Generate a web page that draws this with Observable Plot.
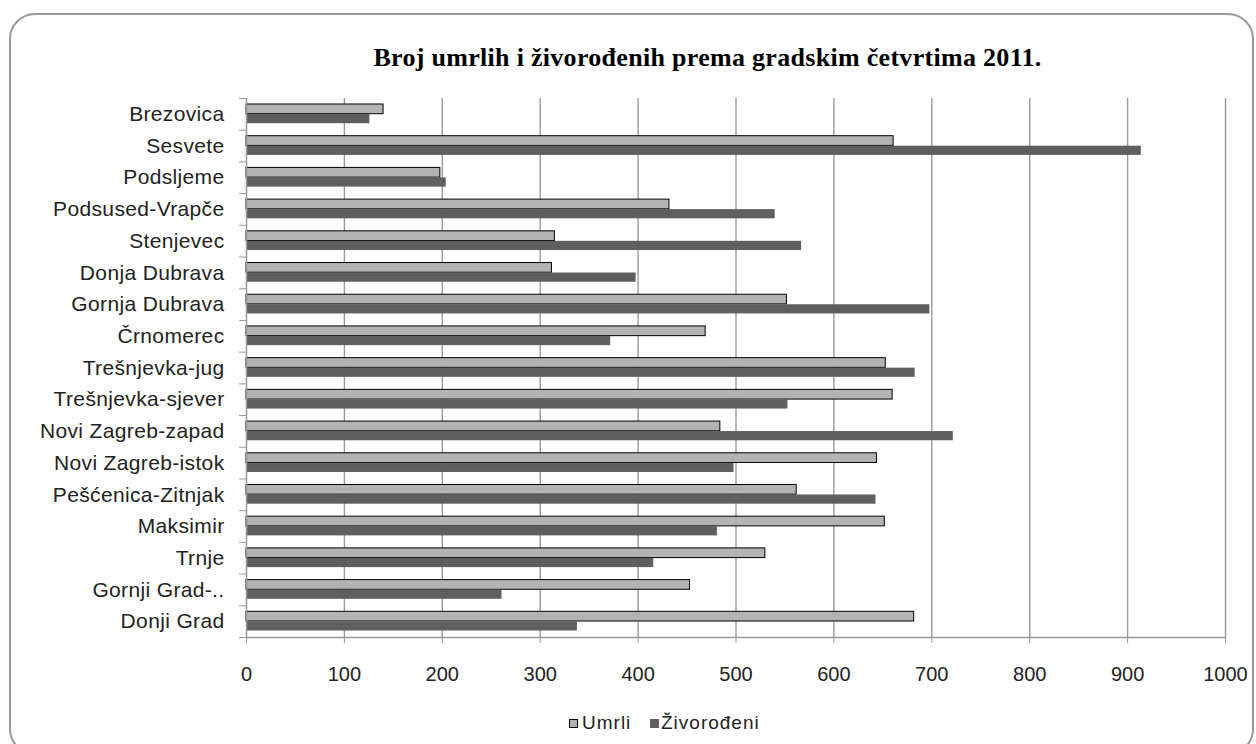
<!DOCTYPE html>
<html>
<head>
<meta charset="utf-8">
<script src="https://cdn.jsdelivr.net/npm/d3@7"></script>
<script src="https://cdn.jsdelivr.net/npm/@observablehq/plot@0.6"></script>
<style>
  html, body { margin: 0; padding: 0; background: #fff; }
  #page { position: relative; width: 1256px; height: 744px; overflow: hidden; background: #fff; }
  #box { position: absolute; left: 9px; top: 13px; width: 1245px; height: 742px; border: 2px solid #999; border-radius: 26px; box-sizing: border-box; }
  #title { position: absolute; left: 0; width: 1415px; top: 45px; text-align: center; font-family: "Liberation Serif", "Times New Roman", serif; font-weight: bold; font-size: 26px; line-height: 26px; letter-spacing: 0.3px; color: #000; white-space: nowrap; }
  #chart { position: absolute; left: 0; top: 80px; }
  #legend { position: absolute; left: 0; top: 0; width: 1256px; height: 744px; pointer-events: none; font-family: "Liberation Sans", Arial, sans-serif; font-size: 19px; letter-spacing: 1px; color: #222; white-space: nowrap; }
  .sw { position: absolute; width: 7px; height: 7px; }
  .lt { position: absolute; line-height: 20px; }
</style>
</head>
<body>
<div id="page">
  <div id="box"></div>
  <div id="title">Broj umrlih i živorođenih prema gradskim četvrtima 2011.</div>
  <div id="chart"></div>
  <div id="legend"></div>
</div>
<script>
const districts = ["Brezovica","Sesvete","Podsljeme","Podsused-Vrapče","Stenjevec","Donja Dubrava","Gornja Dubrava","Črnomerec","Trešnjevka-jug","Trešnjevka-sjever","Novi Zagreb-zapad","Novi Zagreb-istok","Pešćenica-Zitnjak","Maksimir","Trnje","Gornji Grad-..","Donji Grad"];
const umrli      = [140, 661, 198, 432, 315, 312, 552, 469, 653, 660, 484, 644, 562, 652, 530, 453, 682];
const zivorodeni = [126, 914, 204, 540, 567, 398, 698, 372, 683, 553, 722, 498, 643, 481, 416, 261, 338];
const xTicks = [0, 100, 200, 300, 400, 500, 600, 700, 800, 900, 1000];
const seriesNames = ["Umrli", "Živorođeni"];
const seriesColors = ["#b3b3b3", "#5f5f5f"];

const rows = districts.map((d, i) => ({district: d, umrli: umrli[i], ziv: zivorodeni[i]}));

const W = 1256, H = 620, mTop = 18, mBottom = 63, mLeft = 246, mRight = 31;
const bandStep = (H - mTop - mBottom) / districts.length;

const chart = Plot.plot({
  width: W, height: H,
  marginLeft: mLeft, marginRight: mRight, marginTop: mTop, marginBottom: mBottom,
  x: {domain: [0, 1000]},
  y: {domain: districts, padding: 0, round: false},
  style: {fontFamily: "'Liberation Sans', Arial, sans-serif", fontSize: "20px", color: "#222", background: "transparent", overflow: "visible"},
  marks: [
    Plot.ruleX(xTicks.filter(t => t > 0), {stroke: "#999", strokeWidth: 1.4, strokeOpacity: 1}),
    Plot.barX(rows, {y: "district", x: "umrli", fill: seriesColors[0], stroke: "#000", strokeWidth: 1, insetTop: 6, insetBottom: 16}),
    Plot.barX(rows, {y: "district", x: "ziv", fill: seriesColors[1], insetTop: 16, insetBottom: 6.5}),
    Plot.ruleX([0], {stroke: "#999", strokeWidth: 1.5}),
    Plot.frame({anchor: "bottom", stroke: "#999", strokeWidth: 1.5}),
    Plot.axisX({ticks: xTicks, tickSize: 6, tickPadding: 23, stroke: "#999", fontSize: 20, label: null, tickFormat: d => String(d)}),
    Plot.axisY({tickSize: 0, tickPadding: 22, label: null, fontSize: 21}),
    Plot.axisY({tickSize: 7, tickFormat: () => "", dy: -bandStep / 2, stroke: "#999", label: null}),
    Plot.axisY({ticks: [districts[districts.length - 1]], tickSize: 7, tickFormat: () => "", dy: bandStep / 2, stroke: "#999", label: null})
  ]
});
chart.querySelectorAll("g[aria-label='y-axis tick label']").forEach(el => el.setAttribute("letter-spacing", "0.35px"));
document.getElementById("chart").appendChild(chart);

// legend (HTML, below the plot)
const legend = document.getElementById("legend");
const legendLeft = [569, 650];
seriesNames.forEach((name, i) => {
  const sw = document.createElement("div");
  sw.className = "sw";
  sw.style.left = legendLeft[i] + "px";
  sw.style.top = "719px";
  sw.style.background = seriesColors[i];
  sw.style.border = i === 0 ? "1px solid #000" : "1px solid " + seriesColors[i];
  legend.appendChild(sw);
  const t = document.createElement("div");
  t.className = "lt";
  t.style.left = (legendLeft[i] + (i === 0 ? 13 : 11)) + "px";
  t.style.top = "713px";
  t.textContent = name;
  legend.appendChild(t);
});
</script>
</body>
</html>
